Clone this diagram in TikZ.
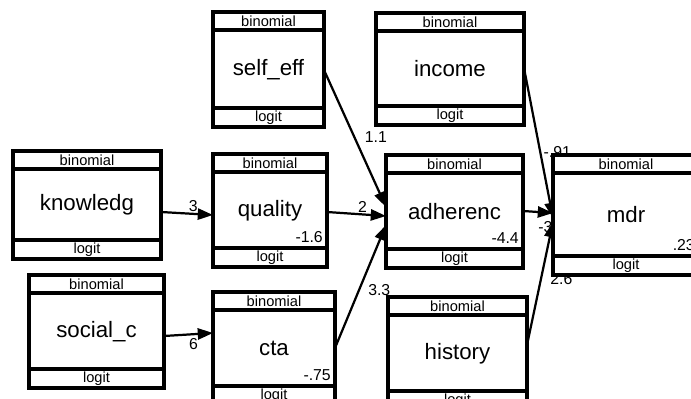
\documentclass[tikz,border=0pt]{standalone}
\usepackage{fontspec}
\setmainfont{Liberation Sans}
\usetikzlibrary{arrows.meta,calc}
\pgfdeclarelayer{bg}
\pgfsetlayers{bg,main}

\tikzset{
  varbox/.style={draw, line width=2.8pt, fill=white, inner sep=0pt, outer sep=0pt},
  sepline/.style={line width=2.8pt},
  varname/.style={font=\fontsize{19}{19}\selectfont},
  vartag/.style={font=\fontsize{12.5}{12.5}\selectfont, inner sep=0pt},
  varconst/.style={font=\fontsize{13.5}{13.5}\selectfont, inner sep=0pt, anchor=south east},
  semarrow/.style={line width=1.9pt, -{Triangle[length=13pt,width=9.5pt]}},
  coef/.style={font=\fontsize{13.5}{13.5}\selectfont, inner sep=1pt},
}

% \semvar{name}{label}{center}{width}{height}{constant}
\newcommand{\semvar}[6]{%
  \node[varbox, minimum width=#4*0.03cm, minimum height=#5*0.03cm] (#1) at (#3) {};
  \draw[sepline] ($(#1.north west)+(0,18)$) -- ($(#1.north east)+(0,18)$);
  \draw[sepline] ($(#1.south west)+(0,-19)$) -- ($(#1.south east)+(0,-19)$);
  \node[vartag] (#1-fam) at ($(#1.north)+(0,9)$) {binomial};
  \node[vartag] (#1-link) at ($(#1.south)+(0,-9.5)$) {logit};
  \node[varname] (#1-name) at (#1.center) {#2};
  \node[varconst] (#1-const) at ($(#1.south east)+(-4,-24)$) {#6};
}

\begin{document}
\begin{tikzpicture}[x=0.03cm, y=-0.03cm]
  \useasboundingbox (0,0) rectangle (691,399);
  \clip (0,0) rectangle (691,399);

  % variables
  \semvar{knowledg}{knowledg}{87,205}{148}{108}{}
  \semvar{selfeff}{self\_eff}{268.5,69.5}{111}{115}{}
  \semvar{income}{income}{450,69}{148}{112}{}
  \semvar{quality}{quality}{270,210.5}{114}{113}{-1.6}
  \semvar{adherenc}{adherenc}{454.5,211.5}{137}{113}{-4.4}
  \semvar{mdr}{mdr}{626,215}{146}{120}{.23}
  \semvar{socialc}{social\_c}{96.5,331.5}{135}{113}{}
  \semvar{cta}{cta}{274,348.5}{122}{113}{-.75}
  \semvar{history}{history}{457.5,353.5}{139}{113}{}

  % paths
  \begin{pgfonlayer}{bg}
    \draw[semarrow] ($(knowledg.east)+(0,7)$) -- ($(quality.west)+(0,4.5)$)
      node[coef, pos=0.62, above] {3};
    \draw[semarrow] ($(socialc.east)+(0,4.5)$) -- ($(cta.west)+(0,-15.5)$)
      node[coef, pos=0.6, below=2pt] {6};
    \draw[semarrow] ($(selfeff.east)+(0,0.5)$) -- ($(adherenc.west)+(0,-4.5)$)
      node[coef, pos=0.49, right=7pt] {1.1};
    \draw[semarrow] ($(quality.east)+(0,1.5)$) -- ($(adherenc.west)+(0,4.5)$)
      node[coef, pos=0.6, above] {2};
    \draw[semarrow] ($(cta.east)+(0,-0.5)$) -- ($(adherenc.west)+(0,13.5)$)
      node[coef, pos=0.47, right=6pt] {3.3};
    \draw[semarrow] ($(income.east)+(0,-1)$) -- ($(mdr.west)+(0,3)$)
      node[coef, pos=0.56, right=1pt] {-.91};
    \draw[semarrow] ($(adherenc.east)+(0,-0.5)$) -- ($(mdr.west)+(0,-2)$)
      node[coef, pos=0.75, below=6pt] {-3};
    \draw[semarrow] ($(history.east)+(0,-8.5)$) -- ($(mdr.west)+(0,7)$)
      node[coef, pos=0.54, right=6pt] {2.6};
  \end{pgfonlayer}
\end{tikzpicture}
\end{document}
